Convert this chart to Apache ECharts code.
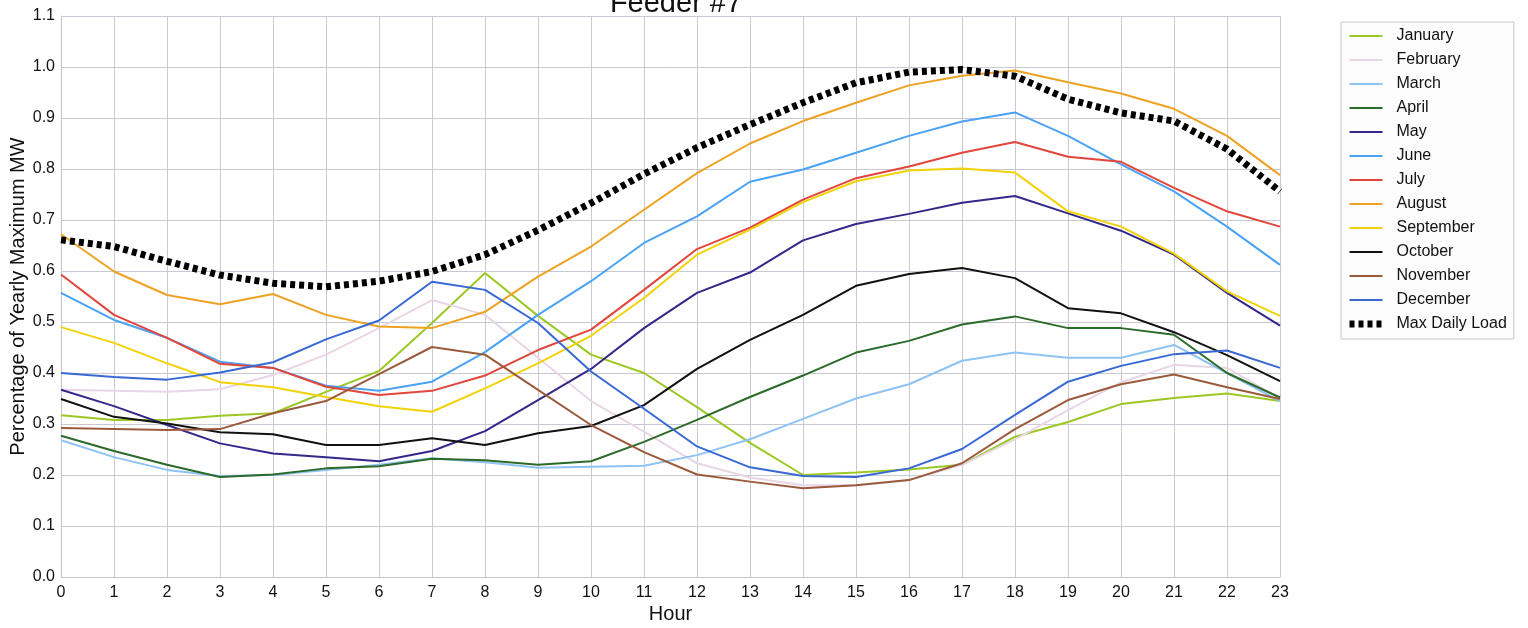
<!DOCTYPE html>
<html>
<head>
<meta charset="utf-8">
<script src="https://cdn.jsdelivr.net/npm/echarts@6/dist/echarts.min.js"></script>
<style>
html,body{margin:0;padding:0;background:#fff;}
#chart{width:1528px;height:628px;}
</style>
</head>
<body>
<div id="chart"></div>
<script>
const hours = ['0','1','2','3','4','5','6','7','8','9','10','11','12','13','14','15','16','17','18','19','20','21','22','23'];
const yTicks = [0.0,0.1,0.2,0.3,0.4,0.5,0.6,0.7,0.8,0.9,1.0,1.1];

const january   = [0.317,0.308,0.308,0.316,0.321,0.363,0.404,0.498,0.596,0.512,0.436,0.400,0.333,0.263,0.200,0.205,0.211,0.220,0.275,0.304,0.339,0.351,0.360,0.345];
const february  = [0.367,0.365,0.363,0.368,0.396,0.436,0.488,0.543,0.514,0.430,0.345,0.285,0.223,0.195,0.180,0.180,0.190,0.220,0.270,0.327,0.382,0.416,0.410,0.350];
const march     = [0.268,0.235,0.210,0.198,0.200,0.210,0.220,0.233,0.225,0.214,0.216,0.218,0.239,0.270,0.310,0.350,0.378,0.424,0.440,0.430,0.430,0.455,0.400,0.345];
const april     = [0.277,0.247,0.220,0.196,0.201,0.213,0.217,0.232,0.229,0.220,0.227,0.265,0.308,0.353,0.395,0.440,0.463,0.495,0.511,0.488,0.488,0.475,0.400,0.352];
const may       = [0.367,0.335,0.298,0.262,0.242,0.235,0.227,0.247,0.286,0.347,0.408,0.488,0.557,0.597,0.660,0.692,0.712,0.734,0.747,0.713,0.679,0.632,0.557,0.493];
const june      = [0.557,0.504,0.469,0.422,0.410,0.375,0.365,0.383,0.441,0.514,0.580,0.655,0.707,0.775,0.799,0.832,0.865,0.893,0.911,0.865,0.809,0.756,0.687,0.612];
const july      = [0.593,0.514,0.469,0.418,0.410,0.373,0.357,0.365,0.395,0.445,0.485,0.563,0.643,0.685,0.740,0.782,0.805,0.832,0.853,0.824,0.814,0.763,0.717,0.687];
const august    = [0.672,0.599,0.553,0.535,0.555,0.514,0.491,0.488,0.520,0.589,0.648,0.720,0.792,0.850,0.894,0.930,0.964,0.983,0.993,0.970,0.948,0.918,0.865,0.788];
const september = [0.490,0.459,0.419,0.382,0.372,0.353,0.335,0.324,0.370,0.419,0.473,0.547,0.632,0.681,0.735,0.776,0.797,0.801,0.793,0.717,0.687,0.634,0.560,0.512];
const october   = [0.349,0.314,0.301,0.284,0.280,0.259,0.259,0.272,0.259,0.282,0.296,0.337,0.408,0.465,0.514,0.571,0.594,0.606,0.586,0.527,0.517,0.480,0.435,0.384];
const november  = [0.292,0.290,0.288,0.290,0.321,0.345,0.398,0.451,0.436,0.367,0.298,0.245,0.201,0.187,0.174,0.180,0.190,0.223,0.290,0.347,0.378,0.397,0.372,0.349];
const december  = [0.400,0.392,0.387,0.401,0.421,0.466,0.503,0.579,0.563,0.498,0.403,0.330,0.256,0.215,0.198,0.196,0.213,0.251,0.318,0.383,0.414,0.437,0.444,0.410];
const maxDaily  = [0.661,0.648,0.619,0.592,0.576,0.569,0.580,0.599,0.632,0.680,0.733,0.790,0.842,0.887,0.930,0.969,0.990,0.995,0.982,0.937,0.910,0.894,0.839,0.756];

const seriesNames = ['January','February','March','April','May','June','July','August','September','October','November','December','Max Daily Load'];
const seriesData = [january,february,march,april,may,june,july,august,september,october,november,december,maxDaily];
const seriesColors = ['#9cc824','#e8d6e6','#8ec3f3','#2c6a2a','#33288a','#4aa2f4','#e2453b','#eda223','#f2d208','#111111','#9c5a3c','#3868d4','#000000'];

const FONT = 'Liberation Sans, Arial, Helvetica, sans-serif';
const MAX_NAME = 'Max Daily Load';

const series = seriesNames.map((name, i) => {
  const isMax = name === MAX_NAME;
  return {
    name: name,
    type: 'line',
    data: seriesData[i],
    symbol: 'none',
    z: isMax ? 10 : 2,
    lineStyle: isMax
      ? {color: seriesColors[i], width: 7, type: [5, 4], cap: 'butt'}
      : {color: seriesColors[i], width: 2},
    itemStyle: {color: seriesColors[i]},
    emphasis: {disabled: true},
    animation: false
  };
});

const legendData = seriesNames.map(name => name === MAX_NAME
  ? {name: name, lineStyle: {width: 7, type: [5, 4], cap: 'butt'}}
  : {name: name, lineStyle: {width: 2}});

const chart = echarts.init(document.getElementById('chart'), null, {renderer: 'canvas'});
chart.setOption({
  animation: false,
  backgroundColor: '#ffffff',
  title: {
    text: 'Feeder #7',
    left: 671,
    textAlign: 'center',
    top: -16,
    textStyle: {fontFamily: FONT, fontSize: 29, fontWeight: 'normal', color: '#111'}
  },
  grid: {left: 61, right: 248, top: 16, bottom: 51, containLabel: false, outerBoundsMode: 'none'},
  xAxis: {
    type: 'category',
    data: hours,
    boundaryGap: false,
    name: 'Hour',
    nameLocation: 'middle',
    nameGap: 27,
    nameMoveOverlap: false,
    nameTextStyle: {fontFamily: FONT, fontSize: 20, color: '#111'},
    axisLine: {show: true, lineStyle: {color: '#c4c4d0', width: 1}},
    axisTick: {show: false},
    axisLabel: {interval: 0, margin: 8, fontFamily: FONT, fontSize: 16, color: '#111'},
    splitLine: {show: true, interval: 0, lineStyle: {color: '#c9c9d4', width: 1}}
  },
  yAxis: {
    type: 'value',
    min: 0,
    max: 1.1,
    interval: 0.1,
    name: 'Percentage of Yearly Maximum MW',
    nameLocation: 'middle',
    nameGap: 33,
    nameMoveOverlap: false,
    nameTextStyle: {fontFamily: FONT, fontSize: 20, color: '#111'},
    axisLine: {show: true, lineStyle: {color: '#c4c4d0', width: 1}},
    axisTick: {show: false},
    axisLabel: {margin: 6, fontFamily: FONT, fontSize: 16, color: '#111',
      formatter: v => { const t = yTicks.find(x => Math.abs(x - v) < 1e-6); return (t !== undefined ? t : v).toFixed(1); }},
    splitLine: {show: true, lineStyle: {color: '#c9c9d4', width: 1}}
  },
  legend: {
    orient: 'vertical',
    left: 1341,
    top: 22,
    padding: [5, 7, 6, 5],
    itemWidth: 33,
    itemHeight: 14,
    itemGap: 6,
    borderColor: '#c8c8c8',
    borderWidth: 1,
    backgroundColor: '#fcfcfd',
    itemStyle: {opacity: 0},
    data: legendData,
    textStyle: {fontFamily: FONT, fontSize: 16, color: '#111', lineHeight: 18, padding: [0, 0, 0, 9]}
  },
  series: series
});
</script>
</body>
</html>
